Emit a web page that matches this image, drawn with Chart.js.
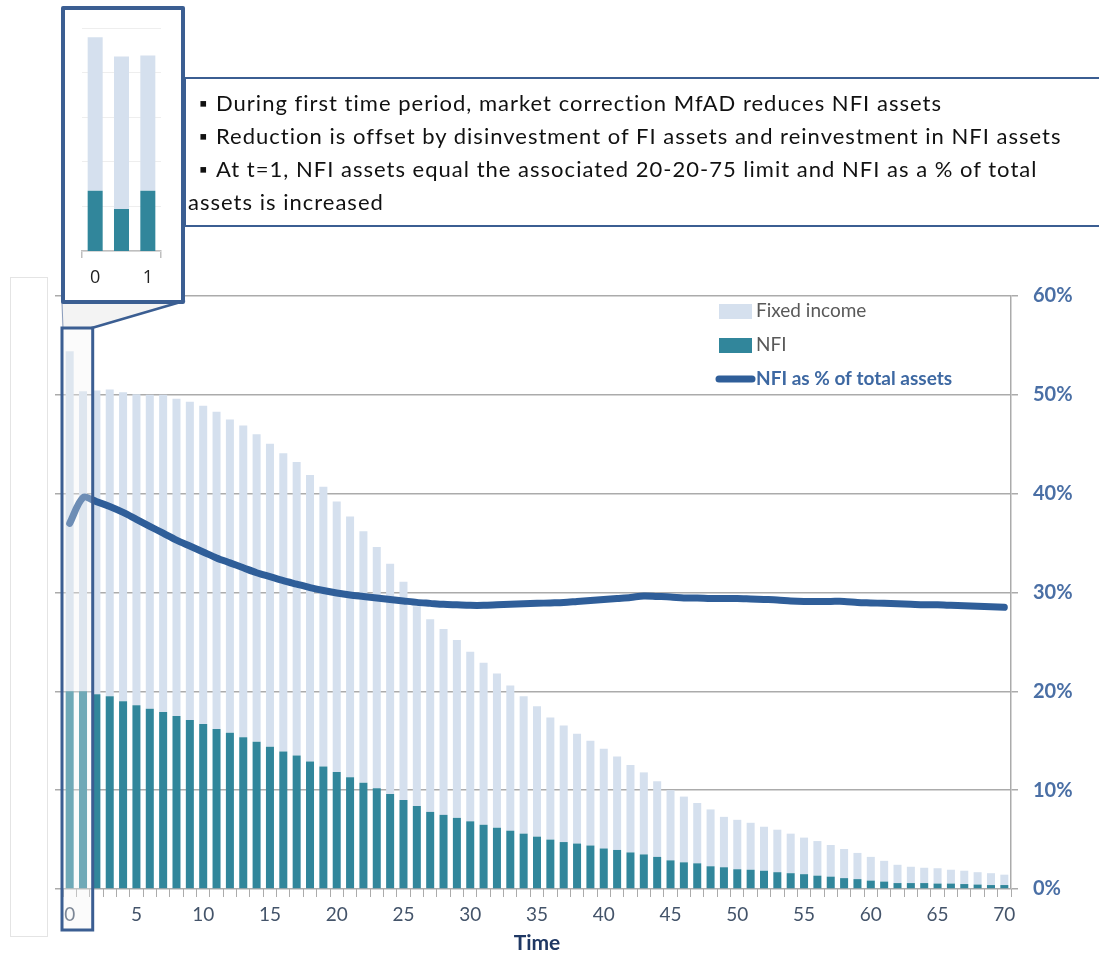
<!DOCTYPE html>
<html>
<head>
<meta charset="utf-8">
<script src="https://cdn.jsdelivr.net/npm/chart.js@4.4.0/dist/chart.umd.min.js"></script>
<style>
  body { margin: 0; background: #fff; font-family: Lato, "Open Sans", sans-serif; }
  #wrap { position: relative; width: 1099px; height: 956px; overflow: hidden; }
  #main { position: absolute; left: 0; top: 0; }
  #ghost { position: absolute; left: 10px; top: 277px; width: 38px; height: 660px; border: 1px solid #e4e4e4; box-sizing: border-box; }
  #inset { position: absolute; left: 61px; top: 6px; width: 124px; height: 298px; border: 4px solid #3b5e92; border-radius: 2px; box-sizing: border-box; background: #fff; }
  #insetChart { position: absolute; left: 0; top: 0; }
  #note { position: absolute; left: 184px; top: 77px; width: 915px; height: 150px; box-sizing: border-box;
          border-top: 2.5px solid #3b5e92; border-bottom: 2.5px solid #3b5e92; border-left: 2.5px solid #3b5e92;
          padding: 7px 0 0 2px; font-size: 22px; line-height: 33px; color: #111; }
  #note div { white-space: nowrap; width: max-content; }
  #note .b { display: inline-block; margin-left: 11px; width: 17px; font-size: 21px; }
</style>
</head>
<body>
<div id="wrap">
  <div id="ghost"></div>
  <canvas id="main" width="1099" height="956"></canvas>
  <div id="note">
    <div><span class="b">&#9642;</span>During first time period, market correction MfAD reduces NFI assets</div>
    <div id="fitLine"><span class="b">&#9642;</span>Reduction is offset by disinvestment of FI assets and reinvestment in NFI assets</div>
    <div><span class="b">&#9642;</span>At t=1, NFI assets equal the associated 20-20-75 limit and NFI as a % of total</div>
    <div>assets is increased</div>
  </div>
  <div id="inset"><canvas id="insetChart" width="116" height="290"></canvas></div>
</div>
<script>
// time periods
const times = [0,1,2,3,4,5,6,7,8,9,10,11,12,13,14,15,16,17,18,19,20,21,22,23,24,25,26,27,28,29,30,
  31,32,33,34,35,36,37,38,39,40,41,42,43,44,45,46,47,48,49,50,51,52,53,54,55,56,57,58,59,60,
  61,62,63,64,65,66,67,68,69,70];
const labelledTimes = [0,5,10,15,20,25,30,35,40,45,50,55,60,65,70];
const pctTicks = [0,10,20,30,40,50,60];

// NFI assets (% of initial)
const nfi = [20.0,20.0,19.7,19.5,19.0,18.6,18.25,17.9,17.5,17.1,
  16.7,16.2,15.8,15.35,14.9,14.4,13.9,13.5,12.9,12.4,
  11.85,11.3,10.75,10.2,9.6,9.0,8.4,7.8,7.5,7.2,
  6.85,6.5,6.2,5.9,5.6,5.3,5.0,4.75,4.6,4.4,
  4.1,3.95,3.7,3.5,3.25,2.9,2.7,2.6,2.3,2.2,
  2.0,1.95,1.85,1.7,1.6,1.5,1.35,1.25,1.1,1.0,
  0.85,0.75,0.6,0.6,0.6,0.55,0.55,0.5,0.45,0.4,0.4];

// fixed income assets stacked above NFI
const fixedIncome = [34.4,30.35,30.75,31.05,31.25,31.45,31.75,32.1,32.1,32.2,
  32.2,32.1,31.7,31.55,31.1,30.65,30.2,29.7,29.0,28.3,
  27.35,26.4,25.45,24.4,23.3,22.1,20.2,19.5,18.8,18.0,
  17.15,16.4,15.6,14.7,13.9,13.2,12.35,11.8,11.1,10.6,
  10.1,9.45,8.85,8.3,7.65,7.1,6.65,6.1,5.75,5.1,
  5.0,4.75,4.45,4.3,4.0,3.7,3.5,3.2,2.95,2.65,
  2.4,2.1,1.85,1.65,1.55,1.55,1.4,1.35,1.25,1.2,1.05];

// NFI as % of total assets
const nfiShare = [37.0,39.6,39.2,38.7,38.1,37.4,36.7,36.0,35.3,34.7,
  34.1,33.5,33.0,32.5,32.0,31.6,31.2,30.85,30.5,30.2,
  29.95,29.75,29.6,29.45,29.3,29.15,29.0,28.9,28.8,28.75,
  28.7,28.7,28.75,28.8,28.85,28.9,28.95,29.0,29.1,29.2,
  29.3,29.4,29.5,29.65,29.6,29.55,29.45,29.45,29.4,29.4,
  29.4,29.35,29.3,29.25,29.15,29.1,29.1,29.1,29.1,29.0,
  28.95,28.9,28.85,28.8,28.75,28.75,28.7,28.65,28.6,28.55,28.5];

// zoomed inset: t=0, after market correction, t=1
const insetLabels = ["0", "", "1"];
const insetNfi = [20.0, 15.9, 20.0];
const insetFixed = [34.4, 34.2, 30.35];
const insetTicks = [6.5, 16.5, 26.5, 36.5, 46.5, 56.5];

const FI_COLOR = "#d5e0ee";
const NFI_COLOR = "#31869b";
const LINE_COLOR = "#2f5e99";
const FRAME = "#3b5e92";
const GRID = "#ababab";

// stretch the note text a little so its second line spans the reference width
(function () {
  const line = document.getElementById("fitLine");
  const note = document.getElementById("note");
  const w = line.offsetWidth;
  const target = 874;
  const chars = line.textContent.length;
  note.style.letterSpacing = ((target - w) / chars).toFixed(3) + "px";
})();

const overlayPlugin = {
  id: "overlay",
  afterDraw(chart) {
    const { ctx, chartArea } = chart;
    const xs = chart.scales.x;
    const p0 = xs.getPixelForValue(0);
    const p1 = xs.getPixelForValue(1);
    const half = (p1 - p0) / 2;

    // legend
    const lx = chartArea.left + 656;
    let ly = chartArea.top + 15;
    const byLabel = {};
    chart.data.datasets.forEach(d => byLabel[d.label] = d);
    const items = ["Fixed income", "NFI", "NFI as % of total assets"];
    ctx.save();
    ctx.textBaseline = "middle";
    items.forEach((lab) => {
      const d = byLabel[lab];
      if (d.type === "line") {
        ctx.strokeStyle = d.borderColor;
        ctx.lineWidth = 7;
        ctx.lineCap = "round";
        ctx.beginPath();
        ctx.moveTo(lx, ly);
        ctx.lineTo(lx + 33, ly);
        ctx.stroke();
        ctx.font = "bold 19px Lato";
        ctx.fillStyle = "#3d68a2";
      } else {
        ctx.fillStyle = d.backgroundColor;
        ctx.fillRect(lx, ly - 7, 33, 15);
        ctx.font = "19px Lato";
        ctx.fillStyle = "#595959";
      }
      ctx.fillText(lab, lx + 37, ly);
      ly += 34;
    });

    // callout from the inset to the highlighted periods
    const left = p0 - half - 1;
    const right = p1 + half + 3;
    const top = chartArea.top + 32;
    const bottom = chartArea.bottom + 41;
    const boxY = chartArea.top + 6;
    ctx.beginPath();
    ctx.moveTo(61, boxY);
    ctx.lineTo(184, boxY);
    ctx.lineTo(right, top);
    ctx.lineTo(left, top);
    ctx.closePath();
    ctx.fillStyle = "rgba(238,238,238,0.7)";
    ctx.fill();
    ctx.strokeStyle = "#8a9cbc";
    ctx.lineWidth = 1;
    ctx.beginPath();
    ctx.moveTo(62, boxY);
    ctx.lineTo(left + 1, top);
    ctx.stroke();
    ctx.strokeStyle = FRAME;
    ctx.lineWidth = 2.5;
    ctx.beginPath();
    ctx.moveTo(184, boxY - 1);
    ctx.lineTo(right - 1, top);
    ctx.stroke();

    // highlight rectangle over t=0..1
    ctx.fillStyle = "rgba(244,244,244,0.32)";
    ctx.fillRect(left, top, right - left, bottom - top);
    ctx.strokeStyle = FRAME;
    ctx.lineWidth = 3;
    ctx.strokeRect(left, top, right - left, bottom - top);
    ctx.restore();
  }
};

new Chart(document.getElementById("main").getContext("2d"), {
  type: "bar",
  data: {
    labels: times,
    datasets: [
      {
        label: "NFI as % of total assets",
        type: "line",
        data: nfiShare,
        borderColor: LINE_COLOR,
        borderWidth: 7,
        borderCapStyle: "round",
        pointRadius: 0,
        tension: 0.3,
        stack: "share",
        order: 0,
      },
      {
        label: "NFI",
        data: nfi,
        backgroundColor: NFI_COLOR,
        stack: "assets",
        order: 1,
        barPercentage: 0.6,
        categoryPercentage: 1,
      },
      {
        label: "Fixed income",
        data: fixedIncome,
        backgroundColor: FI_COLOR,
        stack: "assets",
        order: 2,
        barPercentage: 0.6,
        categoryPercentage: 1,
      },
    ],
  },
  options: {
    responsive: false,
    animation: false,
    layout: { padding: { left: 55, top: 296, right: 0, bottom: 0 } },
    plugins: { legend: { display: false }, tooltip: { enabled: false } },
    scales: {
      x: {
        stacked: true,
        offset: true,
        border: { display: false },
        grid: { display: true, drawOnChartArea: false, offset: true, tickLength: 8, color: GRID, lineWidth: 1 },
        ticks: {
          autoSkip: false,
          maxRotation: 0,
          padding: 6,
          color: "#44546a",
          font: { family: "Lato", size: 19 },
          callback: function (v, i) {
            return labelledTimes.includes(times[i]) ? String(times[i]) : "";
          },
        },
        title: {
          display: true,
          text: "Time",
          color: "#1f3864",
          font: { family: "Lato", size: 21, weight: "bold" },
          padding: { top: 0, bottom: 0 },
        },
        afterFit: (s) => { s.height = 67; },
      },
      y: {
        position: "right",
        stacked: true,
        min: 0,
        max: 60,
        afterBuildTicks: (s) => { s.ticks = pctTicks.map(v => ({ value: v })); },
        grid: { color: GRID, lineWidth: 1.5, tickLength: 7 },
        border: { display: true, color: GRID, width: 1.5 },
        ticks: {
          padding: 15,
          color: "#4a6fa5",
          font: { family: "Lato", size: 20, weight: "bold" },
          callback: (v) => v + "%",
        },
        afterFit: (s) => { s.width = 88; },
      },
      yl: {
        position: "left",
        min: 0,
        max: 60,
        afterBuildTicks: (s) => { s.ticks = pctTicks.map(v => ({ value: v })); },
        grid: { drawOnChartArea: false, color: GRID, lineWidth: 1.5, tickLength: 8 },
        border: { display: false },
        ticks: { display: false },
        afterFit: (s) => { s.width = 8; },
      },
    },
  },
  plugins: [overlayPlugin],
});

// inset mini chart
new Chart(document.getElementById("insetChart").getContext("2d"), {
  type: "bar",
  data: {
    labels: insetLabels,
    datasets: [
      { label: "NFI", data: insetNfi, backgroundColor: NFI_COLOR, barPercentage: 0.57, categoryPercentage: 1 },
      { label: "Fixed income", data: insetFixed, backgroundColor: FI_COLOR, barPercentage: 0.57, categoryPercentage: 1 },
    ],
  },
  options: {
    responsive: false,
    animation: false,
    layout: { padding: { left: 17, top: 18, right: 20, bottom: 0 } },
    plugins: { legend: { display: false }, tooltip: { enabled: false } },
    scales: {
      x: {
        stacked: true,
        border: { display: true, color: "#bfbfbf", width: 1.5 },
        grid: {
          drawOnChartArea: false,
          tickLength: 7,
          lineWidth: 1.5,
          color: (c) => (c.index === 0 || c.index === undefined) ? "#bfbfbf" : "rgba(0,0,0,0)",
        },
        ticks: { padding: 9, color: "#222", font: { family: "Open Sans", size: 18 } },
        afterFit: (s) => { s.height = 49; },
      },
      y: {
        stacked: true,
        min: 6.5,
        max: 56.5,
        afterBuildTicks: (s) => { s.ticks = insetTicks.map(v => ({ value: v })); },
        border: { display: false },
        grid: { color: "#eeeeee", drawTicks: false },
        ticks: { display: false },
        afterFit: (s) => { s.width = 0; },
      },
    },
  },
});
</script>
</body>
</html>
